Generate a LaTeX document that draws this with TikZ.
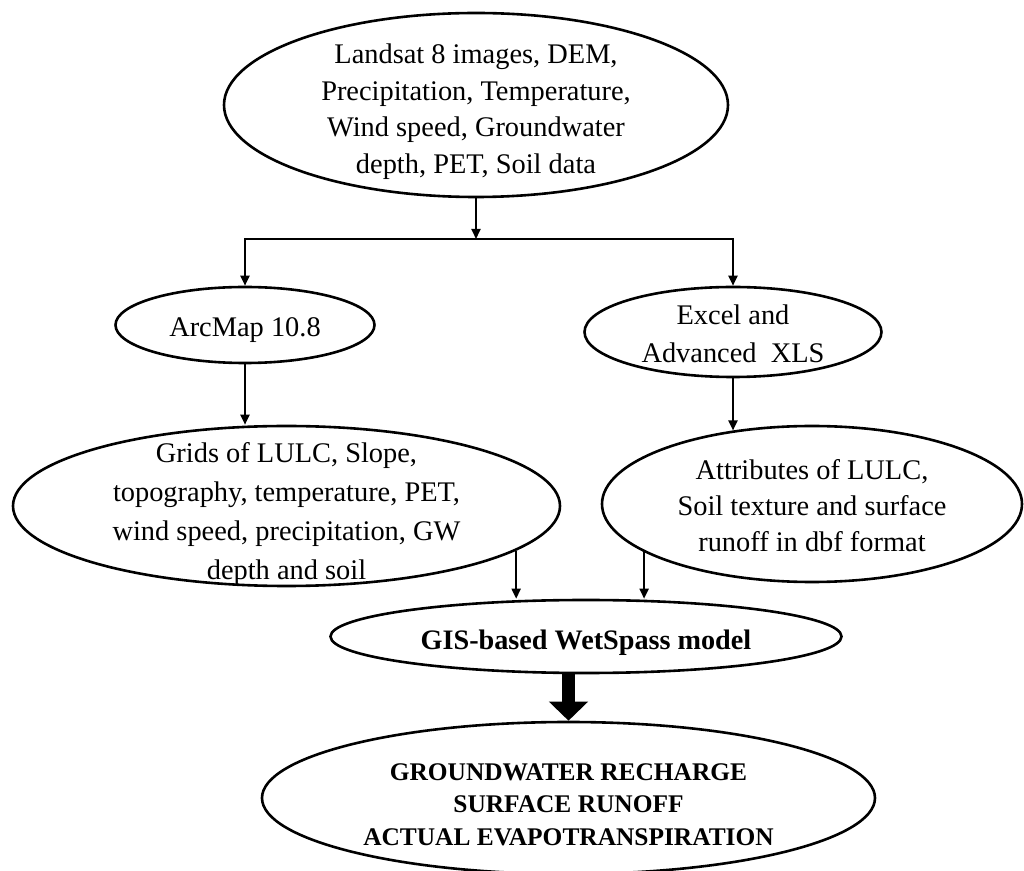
\documentclass[tikz,border=0pt]{standalone}
\usepackage{fontspec}
\setmainfont{Liberation Serif}
\usetikzlibrary{shapes,arrows.meta,positioning,calc}

\begin{document}
\begin{tikzpicture}[
    x=0.5pt, y=-0.5pt,
    oval/.style={ellipse, draw, line width=1.3pt, inner sep=0pt},
    txt/.style={align=center, inner sep=0pt, font=\fontsize{14.2pt}{19pt}\selectfont},
    boldtxt/.style={align=center, inner sep=0pt, font=\bfseries\fontsize{14.1pt}{19pt}\selectfont},
    arrow/.style={-{Triangle[length=5pt,width=4.5pt]}, line width=1pt},
    bigarrow/.style={-{Triangle[length=9.5pt,width=19pt]}, line width=6.5pt}
]
    \useasboundingbox (0,0) rectangle (1024,871);

    \node[oval, minimum width=252pt, minimum height=92pt,
          label={[txt, yshift=-3.25pt, font=\fontsize{14.2pt}{18.3pt}\selectfont]center:{Landsat 8 images, DEM,\\Precipitation, Temperature,\\Wind speed, Groundwater\\depth, PET, Soil data}}] (data) at (476,105) {};
    \node[oval, minimum width=129.5pt, minimum height=38pt,
          label={[txt, yshift=-2.5pt]center:{ArcMap 10.8}}] (arcmap) at (245,325) {};
    \node[oval, minimum width=148.5pt, minimum height=45pt,
          label={[txt, yshift=-1pt]center:{Excel and\\Advanced\ \ XLS}}] (excel) at (733,332) {};
    \node[oval, minimum width=273.5pt, minimum height=80pt,
          label={[txt, yshift=-4pt, font=\fontsize{14.2pt}{19.5pt}\selectfont]center:{Grids of LULC, Slope,\\topography, temperature, PET,\\wind speed, precipitation, GW\\depth and soil}}] (grids) at (286.5,506) {};
    \node[oval, minimum width=210pt, minimum height=78pt,
          label={[txt, yshift=-1pt, font=\fontsize{14.2pt}{18pt}\selectfont]center:{Attributes of LULC,\\Soil texture and surface\\runoff in dbf format}}] (attr) at (812,504) {};
    \node[oval, minimum width=255.5pt, minimum height=36.5pt,
          label={[boldtxt, yshift=-3.25pt]center:{GIS-based WetSpass model}}] (gis) at (586,636.5) {};
    \node[oval, minimum width=306.5pt, minimum height=76pt,
          label={[boldtxt, yshift=-3.25pt, font=\bfseries\fontsize{12.7pt}{16.25pt}\selectfont]center:{GROUNDWATER RECHARGE\\SURFACE RUNOFF\\ACTUAL EVAPOTRANSPIRATION}}] (result) at (568.5,798) {};

    \coordinate (split) at (476,239);
    \draw[arrow] (data) -- (split);
    \draw[arrow] (split) -| (arcmap.north);
    \draw[arrow] (split) -| (excel.north);
    \draw[arrow] (arcmap) -- (arcmap |- grids.north);
    \draw[arrow] (excel) -- (excel |- attr.137);
    \draw[arrow] (grids.-11) -- (grids.-11 |- gis.north);
    \draw[arrow] (attr.196) -- (attr.196 |- gis.north);
    \draw[bigarrow] (result.north |- gis.south) -- (result.north);
\end{tikzpicture}
\end{document}
